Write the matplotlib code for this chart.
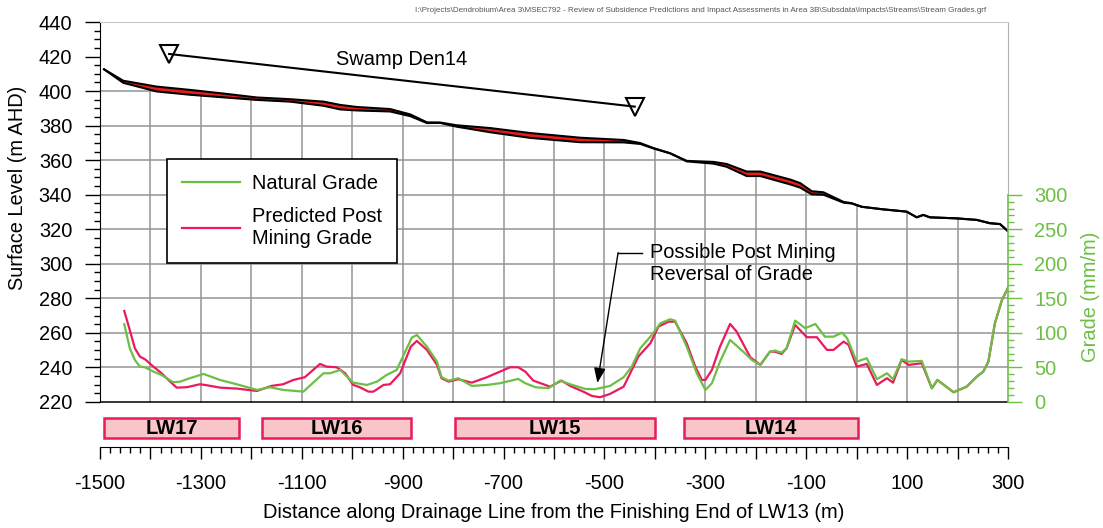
import matplotlib
matplotlib.use('Agg')
import matplotlib.pyplot as plt
from matplotlib.patches import Rectangle
from matplotlib.ticker import MultipleLocator, FixedLocator

plt.rcParams['font.family'] = ['Liberation Sans', 'DejaVu Sans']
plt.rcParams['axes.unicode_minus'] = False

# surface profile (m AHD) along the drainage line
surf_x = [-1492, -1454, -1388, -1322, -1256, -1189, -1123, -1057, -1024, -991,
          -925, -885, -852, -826, -793, -727, -647, -548, -462, -429,
          -403, -370, -337, -284, -258, -218, -191, -131, -112, -89,
          -66, -26, -10, 10, 53, 99, 119, 132, 145, 198,
          238, 264, 284, 301]
surf_nat = [412.6, 406.0, 402.6, 400.7, 398.6, 396.3, 395.3, 393.9, 392.0, 390.8,
            389.6, 386.5, 381.9, 381.8, 380.2, 378.6, 375.7, 373.0, 371.7, 369.9,
            367.0, 364.0, 359.6, 359.0, 357.8, 353.4, 353.4, 348.7, 346.7, 342.0,
            341.4, 335.8, 335.1, 333.0, 331.5, 330.2, 326.9, 328.3, 326.9, 326.3,
            325.4, 323.5, 323.0, 318.6]
# predicted subsidence (m)
subs = [0, 1.2, 2.8, 2.8, 2.2, 1.4, 1.4, 2.4, 2.6, 2.0,
        1.4, 1.0, 0.4, 0.2, 0.8, 2.4, 2.8, 2.6, 1.4, 0.5,
        0.2, 0.0, 0.3, 1.0, 1.6, 2.6, 2.6, 2.8, 2.6, 1.8,
        1.4, 0.4, 0.2, 0, 0, 0, 0, 0, 0, 0,
        0, 0, 0, 0]
surf_post = [a - b for a, b in zip(surf_nat, subs)]

# natural grade (mm/m)
nat_x = [-1452, -1441, -1431, -1421, -1411, -1394, -1378, -1355, -1341, -1322,
         -1295, -1262, -1229, -1189, -1163, -1137, -1097, -1057, -1044, -1024,
         -998, -971, -951, -932, -912, -882, -872, -852, -832, -823,
         -809, -790, -763, -733, -707, -671, -657, -637, -611, -588,
         -568, -538, -519, -489, -462, -446, -429, -409, -389, -370,
         -360, -337, -317, -300, -287, -271, -251, -225, -208, -191,
         -172, -162, -149, -139, -122, -102, -82, -63, -46, -29,
         -19, 0, 20, 40, 60, 72, 89, 103, 129, 149,
         160, 192, 218, 238, 251, 261, 274, 288, 301]
nat_g = [112.5, 77.7, 60.8, 51.1, 50.2, 43.9, 39.0, 28.5, 29.4, 34.3,
         40.5, 31.8, 25.6, 17.4, 21.3, 17.4, 14.9, 41.5, 41.5, 46.3,
         27.9, 24.6, 29.4, 39.0, 46.3, 93.0, 97.0, 80.0, 58.3, 35.8,
         30.8, 34.3, 23.2, 24.6, 27.1, 33.3, 27.1, 21.3, 19.8, 30.8,
         25.6, 18.8, 18.4, 23.2, 35.8, 51.1, 77.7, 94.5, 113.9, 119.7,
         117.7, 80.0, 41.5, 17.4, 27.1, 58.3, 89.7, 72.8, 60.8, 53.6,
         72.8, 74.3, 71.4, 77.7, 117.7, 106.7, 112.9, 94.5, 94.5, 100.3,
         92.2, 58.3, 63.3, 32.9, 41.5, 32.9, 61.8, 58.3, 59.4, 19.8,
         31.8, 14.0, 22.1, 36.6, 43.9, 58.3, 113.9, 147.7, 166.9]

# predicted post mining grade (mm/m)
pred_x = [-1452, -1441, -1431, -1421, -1411, -1394, -1378, -1361, -1348, -1328,
          -1302, -1292, -1262, -1229, -1189, -1160, -1137, -1117, -1094, -1064,
          -1051, -1031, -1014, -998, -985, -968, -958, -938, -925, -905,
          -884, -872, -852, -832, -823, -809, -790, -763, -733, -707,
          -687, -671, -657, -641, -621, -608, -585, -568, -542, -525,
          -509, -489, -462, -449, -433, -409, -393, -373, -360, -337,
          -320, -307, -300, -287, -271, -251, -238, -211, -191, -172,
          -162, -149, -139, -122, -99, -79, -59, -46, -26, -16,
          0, 20, 40, 60, 72, 89, 103, 129, 149, 160,
          192, 218, 238, 251, 261, 274, 288, 301]
pred_g = [131.7, 104.0, 77.7, 65.6, 61.8, 51.0, 41.5, 29.4, 20.7, 21.3,
          25.6, 24.6, 20.7, 19.3, 15.9, 23.2, 25.6, 31.8, 35.8, 55.0,
          51.1, 50.2, 41.5, 24.6, 21.3, 14.9, 14.9, 24.6, 25.6, 41.5,
          80.0, 88.3, 75.3, 53.6, 34.3, 29.4, 32.9, 27.9, 35.8, 43.9,
          50.2, 50.2, 43.9, 30.8, 25.6, 22.1, 30.8, 23.2, 14.9, 8.7,
          6.8, 11.6, 22.1, 41.5, 65.6, 85.0, 109.0, 116.2, 116.2, 85.0,
          51.1, 31.8, 31.8, 46.3, 80.0, 112.9, 101.8, 64.7, 53.6, 72.8,
          72.8, 69.5, 77.7, 111.5, 93.7, 93.7, 75.3, 75.3, 87.3, 82.5,
          51.1, 55.0, 24.6, 34.3, 27.9, 60.8, 53.6, 56.0, 19.8, 31.8,
          14.0, 22.1, 36.6, 43.9, 58.3, 113.9, 147.7, 166.9]

# longwall panels
lw_names = ['LW17', 'LW16', 'LW15', 'LW14']
lw_start = [-1492, -1179, -796, -342]
lw_end = [-1224, -883, -400, 2]

# swamp extent
swamp_x = [-1363, -440]
swamp_y = [421.5, 391.0]

GREEN = '#6cbf45'
PINK = '#ea1a5c'
GRID = '#959595'
FS = 14.4

fig = plt.figure(figsize=(11.03, 5.28), dpi=100)
ax = fig.add_axes([0.0907, 0.1534, 0.8232, 0.8049])
ylo = 193.9
ax.set_xlim(-1500, 300)

# grid, masked above the surface
for yy in range(240, 420, 20):
    ax.plot([-1500, 300], [yy, yy], color=GRID, lw=1.1, zorder=0.5)
for xx in range(-1400, 300, 100):
    ax.plot([xx, xx], [220, 400], color=GRID, lw=1.1, zorder=0.5)
ax.fill_between(surf_x, surf_nat, 440, color='white', zorder=1, lw=0)
ax.fill_between([-1500, surf_x[0]], [surf_nat[0], surf_nat[0]], 440, color='white', zorder=1, lw=0)
ax.plot([-1500, 300], [220, 220], color='black', lw=1.1, zorder=2)

# surface
ax.fill_between(surf_x, surf_post, surf_nat, color='#e81c1c', zorder=3, lw=0)
ax.plot(surf_x, surf_nat, color='black', lw=1.5, zorder=4)
ax.plot(surf_x, surf_post, color='black', lw=1.5, zorder=4)

# swamp
ax.plot(swamp_x, swamp_y, color='black', lw=1.5, zorder=4)
ax.plot(swamp_x, swamp_y, 'v', ms=13, mfc='none', mec='black', mew=1.5, zorder=5)
ax.text(-902, 418.4, 'Swamp Den14', fontsize=FS, ha='center', va='center')

# longwalls
for name, s, e in zip(lw_names, lw_start, lw_end):
    ax.add_patch(Rectangle((s, 199.4), e - s, 11.2, facecolor='#f8c6c8',
                           edgecolor=PINK, lw=1.8, zorder=3))
    ax.text((s + e) / 2, 204.8, name, fontsize=14.5, fontweight='bold',
            ha='center', va='center', zorder=4)

# annotation
ax.plot([-473, -426], [306.4, 306.4], color='black', lw=1.0)
ax.annotate('', xy=(-514, 231), xytext=(-473, 306.4),
            arrowprops=dict(arrowstyle='-|>,head_length=0.9,head_width=0.35',
                            color='black', lw=1.0, shrinkA=0, shrinkB=0))
ax.text(-409, 300.2, 'Possible Post Mining\nReversal of Grade', fontsize=FS,
        ha='left', va='center', linespacing=1.15)

# axes styling
ax.spines['top'].set_color('#c8c8c8')
ax.spines['right'].set_color('#b0b0b0')
ax.spines['right'].set_bounds(340, 440)
ax.spines['left'].set_bounds(220, 440)
ax.set_xticks(range(-1500, 400, 100))
ax.set_xticklabels([str(v) if (v + 1500) % 200 == 0 else '' for v in range(-1500, 400, 100)])
ax.xaxis.set_minor_locator(MultipleLocator(20))
ax.set_yticks(range(220, 460, 20))
ax.yaxis.set_minor_locator(FixedLocator([v for v in range(220, 441, 5) if v % 20]))
ax.set_ylim(ylo, 440)
ax.tick_params(axis='y', which='major', length=11, width=1, labelsize=FS, pad=9)
ax.tick_params(axis='y', which='minor', length=4.3, width=1)
ax.tick_params(axis='x', which='major', length=8.5, width=1, labelsize=FS, pad=11)
ax.tick_params(axis='x', which='minor', length=4.3, width=1)
ax.set_xlabel('Distance along Drainage Line from the Finishing End of LW13 (m)',
              fontsize=FS, labelpad=7)
fig.text(18 / 1103, 1 - 188 / 528, 'Surface Level (m AHD)', rotation=90,
         fontsize=FS, ha='center', va='center')

# grade axis
ax2 = ax.twinx()
ax2.set_ylim((ylo - 220) / 0.4, (440 - 220) / 0.4)
ax2.plot(pred_x, pred_g, color=PINK, lw=1.6, label='Predicted Post\nMining Grade')
ax2.plot(nat_x, nat_g, color=GREEN, lw=1.6, label='Natural Grade')
for s in ['top', 'left', 'bottom']:
    ax2.spines[s].set_visible(False)
ax2.spines['right'].set_bounds(0, 300)
ax2.spines['right'].set_color(GREEN)
ax2.spines['right'].set_linewidth(1.2)
ax2.set_yticks(range(0, 350, 50))
ax2.yaxis.set_minor_locator(FixedLocator([v for v in range(0, 301, 10) if v % 50]))
ax2.tick_params(axis='y', which='major', length=10, width=1, colors=GREEN,
                labelsize=FS, pad=9)
ax2.tick_params(axis='y', which='minor', length=4.3, width=1, colors=GREEN)
fig.text(1090 / 1103, 1 - 297 / 528, 'Grade (mm/m)', rotation=90, color=GREEN,
         fontsize=FS, ha='center', va='center')

h, l = ax2.get_legend_handles_labels()
leg = ax2.legend(h[::-1], l[::-1], loc='upper left', bbox_to_anchor=(0.0738, 0.6776),
                 borderaxespad=0, fontsize=FS, frameon=True, fancybox=False,
                 edgecolor='black', framealpha=1, handlelength=2.9,
                 handletextpad=0.6, borderpad=0.75, labelspacing=0.7)
leg.get_frame().set_linewidth(1.2)

fig.text(986 / 1103, 1 - 10 / 528,
         'I:\\Projects\\Dendrobium\\Area 3\\MSEC792 - Review of Subsidence Predictions and '
         'Impact Assessments in Area 3B\\Subsdata\\Impacts\\Streams\\Stream Grades.grf',
         fontsize=5.8, color='#555555', ha='right', va='center')

fig.savefig('out.png', dpi=100)
